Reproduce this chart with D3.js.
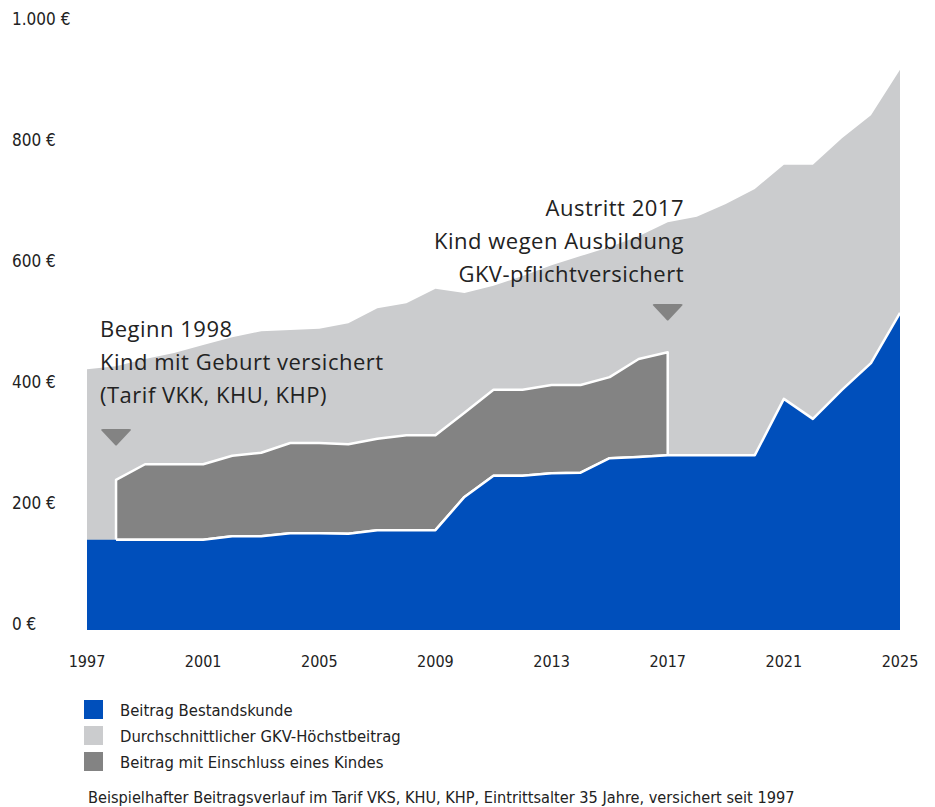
<!DOCTYPE html>
<html>
<head>
<meta charset="utf-8">
<script src="https://cdn.jsdelivr.net/npm/d3@7"></script>
<style>
    body { margin: 0; background: #fff; }
    svg { display: block; }
    .axis-label { font-family: 'Liberation Sans Narrow', 'DejaVu Sans Condensed', sans-serif; font-size: 17px; fill: #222; }
    .year-label { font-family: 'Liberation Sans Narrow', 'DejaVu Sans Condensed', sans-serif; font-size: 16px; fill: #222; }
    .note { font-family: 'Open Sans', sans-serif; font-size: 22px; letter-spacing: 0.5px; fill: #222; }
    .legend-text { font-family: 'Liberation Sans Narrow', 'DejaVu Sans Condensed', sans-serif; font-size: 16.5px; fill: #222; }
    .footnote { font-family: 'Liberation Sans Narrow', 'DejaVu Sans Condensed', sans-serif; font-size: 16.2px; fill: #222; }
</style>
</head>
<body>
<script>
const years = [1997, 1998, 1999, 2000, 2001, 2002, 2003, 2004, 2005, 2006,
    2007, 2008, 2009, 2010, 2011, 2012, 2013, 2014, 2015, 2016,
    2017, 2018, 2019, 2020, 2021, 2022, 2023, 2024, 2025];

// Beitrag Bestandskunde
const bestand = [149, 149, 149, 149, 149, 155, 155, 160, 160, 159,
    165, 165, 165, 220, 255, 255, 259, 260, 284, 286,
    289, 289, 289, 289, 382, 349, 397, 441, 524];

// Durchschnittlicher GKV-Höchstbeitrag
const gkv = [431, 436, 448, 458, 471, 484, 494, 496, 498, 507,
    532, 540, 564, 557, 569, 585, 603, 618, 633, 651,
    674, 683, 704, 729, 769, 769, 813, 851, 926];

// Beitrag mit Einschluss eines Kindes (1998 - 2017)
const kind = [null, 248, 274, 274, 274, 288, 293, 309, 309, 307,
    316, 322, 322, 359, 397, 397, 405, 405, 418, 448,
    459, null, null, null, null, null, null, null, null];

const yTicks = [0, 200, 400, 600, 800, 1000];
const yearTicks = [1997, 2001, 2005, 2009, 2013, 2017, 2021, 2025];

const legendItems = ['Beitrag Bestandskunde', 'Durchschnittlicher GKV-Höchstbeitrag', 'Beitrag mit Einschluss eines Kindes'];
const legendColors = ['#004fbb', '#cbccce', '#838383'];

const noteStart = ['Beginn 1998', 'Kind mit Geburt versichert', '(Tarif VKK, KHU, KHP)'];
const noteEnd = ['Austritt 2017', 'Kind wegen Ausbildung', 'GKV-pflichtversichert'];
const footnote = 'Beispielhafter Beitragsverlauf im Tarif VKS, KHU, KHP, Eintrittsalter 35 Jahre, versichert seit 1997';

const width = 935,
    height = 807;

const data = years.map((y, i) => ({ year: y, bestand: bestand[i], gkv: gkv[i], kind: kind[i] }));

const x = d3.scaleLinear()
    .domain([1997, 2025])
    .range([87, 900]);

const y = d3.scaleLinear()
    .domain([0, 1000])
    .range([630, 25]);

const svg = d3.select('body')
    .append('svg')
    .attr('width', width)
    .attr('height', height);

// light grey GKV area
svg.append('path')
    .datum(data)
    .attr('fill', legendColors[1])
    .attr('d', d3.area()
        .x(d => x(d.year))
        .y0(y(0))
        .y1(d => y(d.gkv)));

// dark grey child area, outlined white
svg.append('path')
    .datum(data)
    .attr('fill', legendColors[2])
    .attr('stroke', '#fff')
    .attr('stroke-width', 2.5)
    .attr('stroke-linejoin', 'round')
    .attr('d', d3.area()
        .defined(d => d.kind !== null)
        .x(d => x(d.year))
        .y0(d => y(d.bestand))
        .y1(d => y(d.kind)));

// blue area
svg.append('path')
    .datum(data)
    .attr('fill', legendColors[0])
    .attr('d', d3.area()
        .x(d => x(d.year))
        .y0(y(0))
        .y1(d => y(d.bestand)));

svg.append('path')
    .datum(data.filter(d => d.year >= 1998))
    .attr('fill', 'none')
    .attr('stroke', '#fff')
    .attr('stroke-width', 2.5)
    .attr('stroke-linejoin', 'round')
    .attr('d', d3.line()
        .x(d => x(d.year))
        .y(d => y(d.bestand)));

// y axis labels
svg.selectAll('.axis-label')
    .data(yTicks)
    .enter()
    .append('text')
    .attr('class', 'axis-label')
    .attr('x', 12)
    .attr('y', d => y(d))
    .text(d => d3.format(',')(d).replace(',', '.') + ' €');

// x axis labels
svg.selectAll('.year-label')
    .data(yearTicks)
    .enter()
    .append('text')
    .attr('class', 'year-label')
    .attr('x', d => x(d))
    .attr('y', 667)
    .attr('text-anchor', 'middle')
    .text(d => d);

// annotations
const marker = (cx, top) => {
    return 'M' + (cx - 15) + ',' + (top + 1) +
        ' Q' + (cx - 15) + ',' + top + ' ' + (cx - 13) + ',' + top +
        ' L' + (cx + 13) + ',' + top +
        ' Q' + (cx + 15) + ',' + top + ' ' + (cx + 15) + ',' + (top + 1) +
        ' L' + (cx + 1) + ',' + (top + 16) +
        ' Q' + cx + ',' + (top + 17) + ' ' + (cx - 1) + ',' + (top + 16) + ' Z';
};

svg.append('path')
    .attr('fill', '#838383')
    .attr('d', marker(x(1998), 429));

svg.append('path')
    .attr('fill', '#838383')
    .attr('d', marker(x(2017), 304));

svg.selectAll('.note-start')
    .data(noteStart)
    .enter()
    .append('text')
    .attr('class', 'note note-start')
    .attr('x', 100)
    .attr('y', (d, i) => 337 + i * 33)
    .text(d => d);

svg.selectAll('.note-end')
    .data(noteEnd)
    .enter()
    .append('text')
    .attr('class', 'note note-end')
    .attr('x', 684)
    .attr('y', (d, i) => 216 + i * 33)
    .attr('text-anchor', 'end')
    .text(d => d);

// legend
const legend = svg.selectAll('.legend')
    .data(legendItems)
    .enter()
    .append('g')
    .attr('class', 'legend')
    .attr('transform', (d, i) => 'translate(84,' + (700 + i * 26) + ')');

legend.append('rect')
    .attr('width', 19)
    .attr('height', 19)
    .attr('fill', (d, i) => legendColors[i]);

legend.append('text')
    .attr('class', 'legend-text')
    .attr('x', 36)
    .attr('y', 16)
    .text(d => d);

svg.append('text')
    .attr('class', 'footnote')
    .attr('x', 88)
    .attr('y', 803)
    .text(footnote);
</script>
</body>
</html>
